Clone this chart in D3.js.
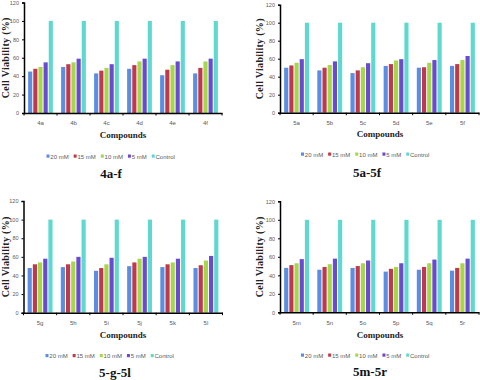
<!DOCTYPE html>
<html><head><meta charset="utf-8">
<script src="https://cdn.jsdelivr.net/npm/d3@7"></script>
<style>
body{margin:0;background:#fff;}
svg{display:block;}
</style></head>
<body>
<svg id="c" width="480" height="380"></svg>
<script>
const seriesNames = ["20 mM","15 mM","10 mM","5 mM","Control"];
const seriesColors = ["#5b8de0","#c0384e","#a6d64a","#6a4ad0","#5fd8d0"];
const yTicks = [0,20,40,60,80,100,120];

const cats1 = ["4a","4b","4c","4d","4e","4f"];
const p1_20 = [45,50,43,48,41,43];
const p1_15 = [48,53,46,52,47,49];
const p1_10 = [50,55,49,56,52,56];
const p1_5  = [55,59,53,59,56,59];
const p1_ctrl = [100,100,100,100,100,100];

const cats2 = ["5a","5b","5c","5d","5e","5f"];
const p2_20 = [50,47,44,52,50,52];
const p2_15 = [52.5,50,47,54,50.5,54];
const p2_10 = [55.5,53,50.5,58,55.5,58.5];
const p2_5  = [59.5,57,55,59.5,58.5,63];
const p2_ctrl = [100,100,100,100,100,100];

const cats3 = ["5g","5h","5i","5j","5k","5l"];
const p3_20 = [48,49,45,50,49,48];
const p3_15 = [52,52,48,54,52,51];
const p3_10 = [54,55,52,58,54,56];
const p3_5  = [58,60,59,60,58,61];
const p3_ctrl = [100,100,100,100,100,100];

const cats4 = ["5m","5n","5o","5p","5q","5r"];
const p4_20 = [48,46,48,44,46,45];
const p4_15 = [51,49,50,47,49,48];
const p4_10 = [53,52,53,49,53,53];
const p4_5  = [57.5,58,56,53,57,58];
const p4_ctrl = [100,100,100,100,100,100];

const titles = ["4a-f","5a-5f","5-g-5l","5m-5r"];

const panels = [
  {cats:cats1, series:[p1_20,p1_15,p1_10,p1_5,p1_ctrl], title:titles[0],
   x0:24, x1:222, y0:113, y1:2.5, ylx:5.5, catY:124, compX:123, compY:138, legX:46.5, legY:157, titleX:111, titleY:178},
  {cats:cats2, series:[p2_20,p2_15,p2_10,p2_5,p2_ctrl], title:titles[1],
   x0:280, x1:479, y0:112.7, y1:4.7, ylx:259.5, catY:123, compX:380, compY:137, legX:301, legY:155, titleX:367, titleY:177},
  {cats:cats3, series:[p3_20,p3_15,p3_10,p3_5,p3_ctrl], title:titles[2],
   x0:23.5, x1:222.5, y0:312.7, y1:201, ylx:5.5, catY:324, compX:123, compY:338, legX:45.5, legY:356.5, titleX:115, titleY:377},
  {cats:cats4, series:[p4_20,p4_15,p4_10,p4_5,p4_ctrl], title:titles[3],
   x0:280, x1:479, y0:312.3, y1:201.3, ylx:259.5, catY:323, compX:380, compY:338, legX:301, legY:356, titleX:370, titleY:376}
];

const svg = d3.select("#c");
const txtCol = "#595959";

panels.forEach(p => {
  const g = svg.append("g");
  const x = d3.scaleBand().domain(p.cats).range([p.x0, p.x1]).paddingInner(0.25).paddingOuter(0.125);
  const xs = d3.scaleBand().domain(d3.range(seriesNames.length)).range([0, x.bandwidth()]).paddingInner(0.2);
  const y = d3.scaleLinear().domain([0,120]).range([p.y0, p.y1]);

  // bars
  p.series.forEach((vals, si) => {
    g.selectAll(null).data(vals).enter().append("rect")
      .attr("x", (d,i) => x(p.cats[i]) + xs(si))
      .attr("y", d => y(d))
      .attr("width", xs.bandwidth())
      .attr("height", d => y(0) - y(d))
      .attr("fill", seriesColors[si]);
  });

  // y axis
  const ya = g.append("g").attr("transform", `translate(${p.x0},0)`)
    .call(d3.axisLeft(y).tickValues(yTicks).tickSize(2).tickPadding(3));
  ya.select(".domain").attr("stroke","#000").attr("stroke-width",1.5);
  ya.selectAll(".tick line").attr("stroke","#000");
  ya.selectAll(".tick text").attr("font-family","Liberation Sans, Arial").attr("font-size","5.5px").attr("fill",txtCol);

  // x axis
  const xa = g.append("g").attr("transform", `translate(0,${p.y0})`)
    .call(d3.axisBottom(x).tickSize(0).tickPadding(8));
  xa.select(".domain").attr("stroke","#000").attr("stroke-width",1.5);
  xa.selectAll(".tick text").attr("font-family","Liberation Sans, Arial").attr("font-size","6px").attr("fill",txtCol);
  // category separator ticks
  const bounds = p.cats.map(c => x(c) - x.step()*x.paddingInner()/2).concat([p.x1]);
  bounds[0] = p.x0;
  g.selectAll(null).data(bounds).enter().append("line")
    .attr("x1", d => d).attr("x2", d => d)
    .attr("y1", p.y0).attr("y2", p.y0 + 2.5)
    .attr("stroke","#000").attr("stroke-width",1);

  // y label
  g.append("text")
    .attr("transform", `translate(${p.ylx},${(p.y0+p.y1)/2}) rotate(-90)`)
    .attr("text-anchor","middle").attr("dominant-baseline","central")
    .attr("font-family","Liberation Serif, Times New Roman").attr("font-weight","bold")
    .attr("font-size","10px").attr("letter-spacing","0.3px").attr("fill","#222")
    .text("Cell Viability (%)");

  // x label
  g.append("text").attr("x", p.compX).attr("y", p.compY)
    .attr("text-anchor","middle")
    .attr("font-family","Liberation Serif, Times New Roman").attr("font-weight","bold")
    .attr("font-size","9px").attr("fill","#222")
    .text("Compounds");

  // legend
  let lx = p.legX;
  seriesNames.forEach((nm, si) => {
    g.append("rect").attr("x", lx).attr("y", p.legY - 2.5).attr("width",3).attr("height",3.2).attr("fill", seriesColors[si]);
    const t = g.append("text").attr("x", lx + 3.8).attr("y", p.legY + 1.8)
      .attr("font-family","Liberation Sans, Arial").attr("font-size","6px").attr("fill",txtCol).text(nm);
    lx += 3.8 + t.node().getComputedTextLength() + 5;
  });

  // title
  g.append("text").attr("x", p.titleX).attr("y", p.titleY)
    .attr("text-anchor","middle")
    .attr("font-family","Liberation Serif, Times New Roman").attr("font-weight","bold")
    .attr("font-size","13px").attr("fill","#111")
    .text(p.title);
});
</script>
</body></html>
